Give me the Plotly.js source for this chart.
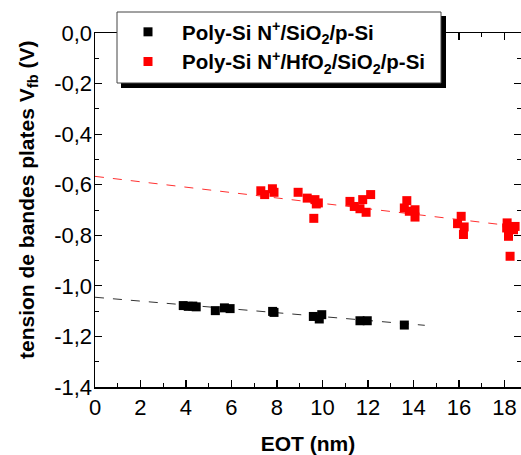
<!DOCTYPE html>
<html>
<head>
<meta charset="utf-8">
<script src="https://cdn.plot.ly/plotly-3.0.1.min.js"></script>
<style>html,body{margin:0;padding:0;background:#fff;overflow:hidden;}</style>
</head>
<body>
<div id="chart" style="width:521px;height:455px;"></div>
<script>
// Data
const blackName = '<b>Poly-Si N<sup>+</sup>/SiO<sub>2</sub>/p-Si</b>';
const redName = '<b>Poly-Si N<sup>+</sup>/HfO<sub>2</sub>/SiO<sub>2</sub>/p-Si</b>';

const blackX = [3.88, 4.10, 4.30, 4.45, 5.29, 5.69, 5.94, 7.81, 7.87, 9.60, 9.97, 9.86, 11.65, 11.97, 13.60];
const blackY = [-1.078, -1.081, -1.080, -1.083, -1.098, -1.087, -1.090, -1.101, -1.105, -1.121, -1.114, -1.131, -1.138, -1.138, -1.155];

const redX = [7.29, 7.46, 7.80, 7.87, 8.93, 9.33, 9.67, 9.73, 9.62, 9.82, 11.21, 11.40, 11.77, 12.12, 11.65, 11.92, 13.71, 13.60, 13.82, 14.07, 14.07, 15.94, 16.23, 16.20, 16.10, 18.10, 18.40, 18.18, 18.25, 18.47, 18.12];
const redY = [-0.624, -0.639, -0.616, -0.630, -0.630, -0.653, -0.659, -0.676, -0.733, -0.672, -0.666, -0.686, -0.659, -0.639, -0.695, -0.709, -0.663, -0.692, -0.705, -0.699, -0.728, -0.754, -0.767, -0.797, -0.725, -0.771, -0.778, -0.804, -0.883, -0.765, -0.751];

const blackFitX = [0, 14.5];
const blackFitY = [-1.045, -1.156];
const redFitX = [0, 18.73];
const redFitY = [-0.567, -0.767];

const xTickVals = [0, 2, 4, 6, 8, 10, 12, 14, 16, 18];
const xTickText = ['0', '2', '4', '6', '8', '10', '12', '14', '16', '18'];
const yTickVals = [0, -0.2, -0.4, -0.6, -0.8, -1.0, -1.2, -1.4];
const yTickText = ['0,0', '-0,2', '-0,4', '-0,6', '-0,8', '-1,0', '-1,2', '-1,4'];

const xTitle = '<b>EOT (nm)</b>';
const yTitle = '<b>tension de bandes plates V<sub>fb</sub> (V)</b>';

const FONT = 'Liberation Sans, Arial, sans-serif';

// pixel -> paper helpers (layout positioning only)
const L = 95, T = 33, B = 68, W = 521, H = 455;
const pw = W - L, ph = H - T - B;
const xp = px => (px - L) / pw;
const yp = py => (H - B - py) / ph;

const traces = [
  {x: redFitX, y: redFitY, mode: 'lines', line: {color: '#ff3030', width: 1, dash: 'dash'}, showlegend: false, hoverinfo: 'skip'},
  {x: blackFitX, y: blackFitY, mode: 'lines', line: {color: '#333333', width: 1, dash: 'dash'}, showlegend: false, hoverinfo: 'skip'},
  {x: blackX, y: blackY, mode: 'markers', name: blackName, marker: {symbol: 'square', size: 9, color: '#000000'}},
  {x: redX, y: redY, mode: 'markers', name: redName, marker: {symbol: 'square', size: 9, color: '#ff0000'}}
];

const axisCommon = {
  showgrid: false, zeroline: false, showline: true, linecolor: '#000', linewidth: 1.5,
  ticks: 'inside', ticklen: 7, tickwidth: 1.2, tickcolor: '#000', mirror: 'ticks',
  tickfont: {family: FONT, size: 22, color: '#000'}, tickmode: 'array'
};

const layout = {
  width: W, height: H,
  margin: {l: L, r: 0, t: T, b: B, pad: 0},
  paper_bgcolor: '#fff', plot_bgcolor: '#fff',
  font: {family: FONT, color: '#000'},
  xaxis: Object.assign({}, axisCommon, {
    range: [0, 18.73], tickvals: xTickVals, ticktext: xTickText,
    minor: {ticks: 'inside', ticklen: 4, tickwidth: 1, tickcolor: '#000', dtick: 1, tick0: 0},
    title: {text: xTitle, font: {family: FONT, size: 21, color: '#000'}, standoff: 17}
  }),
  yaxis: Object.assign({}, axisCommon, {
    range: [-1.4, 0], tickvals: yTickVals, ticktext: yTickText,
    ticklabelstandoff: -3,
    minor: {ticks: 'inside', ticklen: 4, tickwidth: 1, tickcolor: '#000', dtick: 0.1, tick0: 0}
  }),
  annotations: [
    {text: yTitle, xref: 'paper', yref: 'paper', x: xp(28), y: yp(200), xanchor: 'center', yanchor: 'middle',
     textangle: -90, showarrow: false, font: {family: FONT, size: 21, color: '#000'}}
  ],
  legend: {
    x: xp(114), y: yp(12), xanchor: 'left', yanchor: 'top',
    bgcolor: 'rgba(0,0,0,0)', borderwidth: 0,
    font: {family: FONT, size: 20.5, color: '#000'},
    itemwidth: 58
  },
  shapes: [
    {type: 'rect', xref: 'paper', yref: 'paper', x0: xp(121), x1: xp(446), y0: yp(16), y1: yp(88),
     fillcolor: '#000', line: {width: 0}, layer: 'above'},
    {type: 'rect', xref: 'paper', yref: 'paper', x0: xp(117), x1: xp(441), y0: yp(12), y1: yp(83),
     fillcolor: '#fff', line: {width: 1, color: '#444'}, layer: 'above'}
  ],
  showlegend: true
};

Plotly.newPlot('chart', traces, layout, {displayModeBar: false, staticPlot: true});
</script>
</body>
</html>
